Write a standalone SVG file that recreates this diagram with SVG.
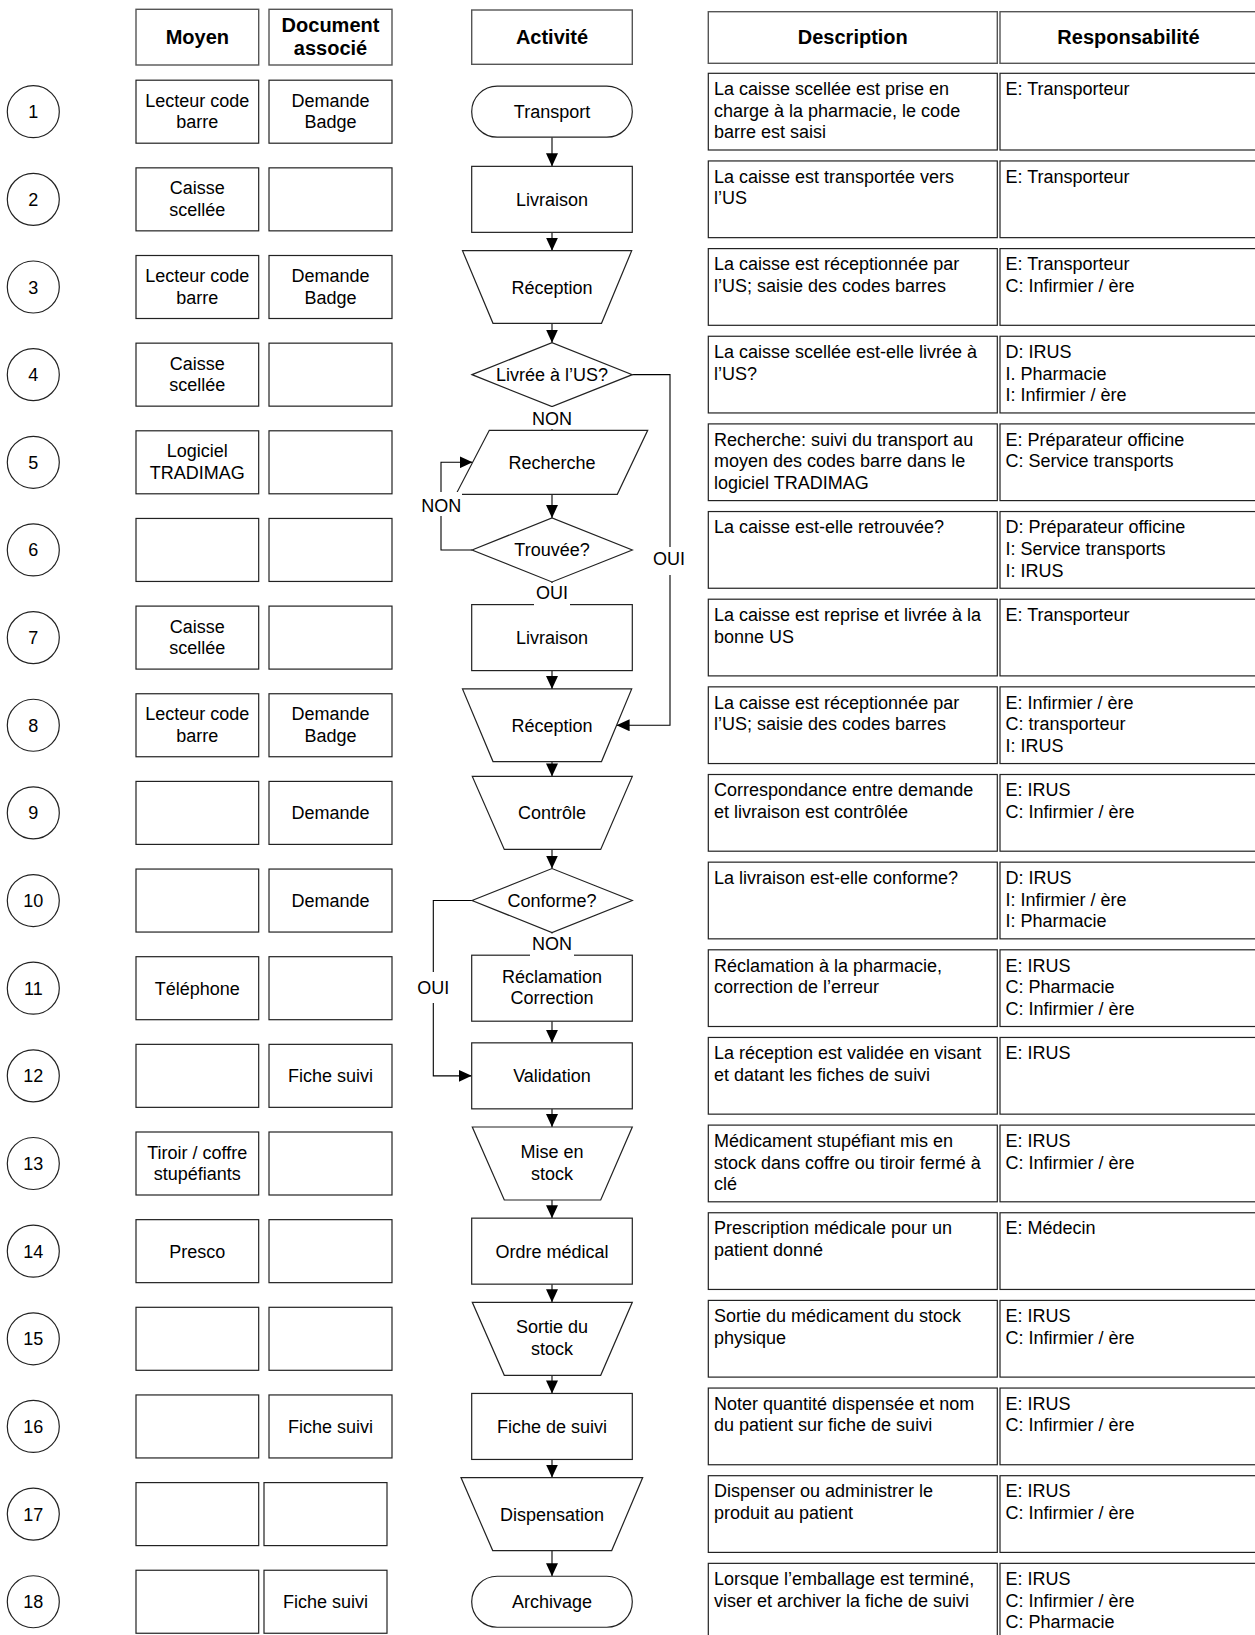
<svg xmlns="http://www.w3.org/2000/svg" width="1255" height="1635" viewBox="0 0 1255 1635">
<style>
text{font-family:"Liberation Sans",Arial,sans-serif;font-size:18px;fill:#000}
.c{text-anchor:middle}
.h{font-weight:bold;font-size:20px}
.b{fill:#fff;stroke:#222;stroke-width:1.2}
.bh{fill:#fff;stroke:#555;stroke-width:1.4}
.ln{fill:none;stroke:#000;stroke-width:1.1}
.lb{fill:#fff;stroke:none}
.dt{}
</style>
<defs>
<marker id="arr" markerWidth="13" markerHeight="12" refX="13" refY="6" orient="auto" markerUnits="userSpaceOnUse"><path d="M0,0 L13,6 L0,12 z" fill="#000"/></marker>
</defs>
<rect width="1255" height="1635" fill="#fff"/>

<!-- headers -->
<g id="hdr-moyen"><rect class="bh" x="136" y="9.3" width="122.7" height="55.7"/><text class="c h" x="197.3" y="44">Moyen</text></g>
<g id="hdr-doc"><rect class="bh" x="269" y="9.3" width="123" height="55.7"/><text class="c h" x="330.5" y="31.5">Document</text><text class="c h" x="330.5" y="55">associé</text></g>
<g id="hdr-act"><rect class="bh" x="471.7" y="10" width="160.6" height="54.3"/><text class="c h" x="552" y="44">Activité</text></g>
<g id="hdr-desc"><rect class="bh" x="708.3" y="11.7" width="289" height="51.6"/><text class="c h" x="852.8" y="44">Description</text></g>
<g id="hdr-resp"><rect class="bh" x="1000" y="11.7" width="257" height="51.6"/><text class="c h" x="1128.5" y="44">Responsabilité</text></g>

<!-- connectors -->
<g id="connectors">
<path class="ln" d="M552,137.2 V166.35" marker-end="url(#arr)"/>
<path class="ln" d="M552,232.35 V250.7" marker-end="url(#arr)"/>
<path class="ln" d="M552,323.3 V342.65" marker-end="url(#arr)"/>
<path class="ln" d="M552,406.65 V430.3"/>
<path class="ln" d="M552,494.3 V517.95" marker-end="url(#arr)"/>
<path class="ln" d="M552,581.95 V604.6"/>
<path class="ln" d="M552,670.6 V688.95" marker-end="url(#arr)"/>
<path class="ln" d="M552,761.55 V776.4" marker-end="url(#arr)"/>
<path class="ln" d="M552,849.4 V868.55" marker-end="url(#arr)"/>
<path class="ln" d="M552,932.55 V955.2"/>
<path class="ln" d="M552,1021.2 V1042.85" marker-end="url(#arr)"/>
<path class="ln" d="M552,1108.85 V1127" marker-end="url(#arr)"/>
<path class="ln" d="M552,1200 V1218.15" marker-end="url(#arr)"/>
<path class="ln" d="M552,1284.15 V1302.3" marker-end="url(#arr)"/>
<path class="ln" d="M552,1375.3 V1393.45" marker-end="url(#arr)"/>
<path class="ln" d="M552,1459.45 V1477.6" marker-end="url(#arr)"/>
<path class="ln" d="M552,1550.6 V1576.25" marker-end="url(#arr)"/>
<path class="ln" d="M632.3,374.65 H670 V725.25 H616.6" marker-end="url(#arr)"/>
<path class="ln" d="M472,549.95 H441 V462.3 H472.6" marker-end="url(#arr)"/>
<path class="ln" d="M472,900.55 H433.3 V1075.85 H471.7" marker-end="url(#arr)"/>
</g>

<!-- row 1 -->
<g id="n1" transform="translate(0,111.7)"><circle class="b" cx="33.3" cy="0" r="26"/><text class="c" x="33.3" y="6.5">1</text></g>
<g id="m1" transform="translate(0,111.7)"><rect class="b" x="136" y="-31.5" width="122.7" height="63"/><text class="c" x="197.3" y="-5">Lecteur code</text><text class="c" x="197.3" y="16.5">barre</text></g>
<g id="d1" transform="translate(0,111.7)"><rect class="b" x="269" y="-31.5" width="123" height="63"/><text class="c" x="330.5" y="-5">Demande</text><text class="c" x="330.5" y="16.5">Badge</text></g>
<g id="a1" transform="translate(0,111.7)"><rect class="b" x="471.7" y="-25.5" width="160.6" height="51" rx="25.5"/><text class="c" x="552" y="6.5">Transport</text></g>
<g id="s1" transform="translate(0,111.7)"><rect class="b" x="708.3" y="-38.4" width="289" height="76.7"/><text x="714" y="-16.7">La caisse scellée est prise en</text><text x="714" y="5">charge à la pharmacie, le code</text><text x="714" y="26.7">barre est saisi</text></g>
<g id="r1" transform="translate(0,111.7)"><rect class="b" x="1000" y="-38.4" width="257" height="76.7"/><text x="1005.5" y="-16.7">E: Transporteur</text></g>

<!-- row 2 -->
<g id="n2" transform="translate(0,199.35)"><circle class="b" cx="33.3" cy="0" r="26"/><text class="c" x="33.3" y="6.5">2</text></g>
<g id="m2" transform="translate(0,199.35)"><rect class="b" x="136" y="-31.5" width="122.7" height="63"/><text class="c" x="197.3" y="-5">Caisse</text><text class="c" x="197.3" y="16.5">scellée</text></g>
<g id="d2" transform="translate(0,199.35)"><rect class="b" x="269" y="-31.5" width="123" height="63"/></g>
<g id="a2" transform="translate(0,199.35)"><rect class="b" x="471.7" y="-33" width="160.6" height="66"/><text class="c" x="552" y="6.5">Livraison</text></g>
<g id="s2" transform="translate(0,199.35)"><rect class="b" x="708.3" y="-38.4" width="289" height="76.7"/><text x="714" y="-16.7">La caisse est transportée vers</text><text x="714" y="5">l’US</text></g>
<g id="r2" transform="translate(0,199.35)"><rect class="b" x="1000" y="-38.4" width="257" height="76.7"/><text x="1005.5" y="-16.7">E: Transporteur</text></g>

<!-- row 3 -->
<g id="n3" transform="translate(0,287)"><circle class="b" cx="33.3" cy="0" r="26"/><text class="c" x="33.3" y="6.5">3</text></g>
<g id="m3" transform="translate(0,287)"><rect class="b" x="136" y="-31.5" width="122.7" height="63"/><text class="c" x="197.3" y="-5">Lecteur code</text><text class="c" x="197.3" y="16.5">barre</text></g>
<g id="d3" transform="translate(0,287)"><rect class="b" x="269" y="-31.5" width="123" height="63"/><text class="c" x="330.5" y="-5">Demande</text><text class="c" x="330.5" y="16.5">Badge</text></g>
<g id="a3" transform="translate(0,287)"><polygon class="b" points="462.5,-36.3 631.7,-36.3 601.5,36.3 493,36.3"/><text class="c" x="552" y="6.5">Réception</text></g>
<g id="s3" transform="translate(0,287)"><rect class="b" x="708.3" y="-38.4" width="289" height="76.7"/><text x="714" y="-16.7">La caisse est réceptionnée par</text><text x="714" y="5">l’US; saisie des codes barres</text></g>
<g id="r3" transform="translate(0,287)"><rect class="b" x="1000" y="-38.4" width="257" height="76.7"/><text x="1005.5" y="-16.7">E: Transporteur</text><text x="1005.5" y="5">C: Infirmier / ère</text></g>

<!-- row 4 -->
<g id="n4" transform="translate(0,374.65)"><circle class="b" cx="33.3" cy="0" r="26"/><text class="c" x="33.3" y="6.5">4</text></g>
<g id="m4" transform="translate(0,374.65)"><rect class="b" x="136" y="-31.5" width="122.7" height="63"/><text class="c" x="197.3" y="-5">Caisse</text><text class="c" x="197.3" y="16.5">scellée</text></g>
<g id="d4" transform="translate(0,374.65)"><rect class="b" x="269" y="-31.5" width="123" height="63"/></g>
<g id="a4" transform="translate(0,374.65)"><polygon class="b" points="472,0 552,-32 632.3,0 552,32"/><text class="c" x="552" y="6.5">Livrée à l’US?</text></g>
<g id="s4" transform="translate(0,374.65)"><rect class="b" x="708.3" y="-38.4" width="289" height="76.7"/><text x="714" y="-16.7">La caisse scellée est-elle livrée à</text><text x="714" y="5">l’US?</text></g>
<g id="r4" transform="translate(0,374.65)"><rect class="b" x="1000" y="-38.4" width="257" height="76.7"/><text x="1005.5" y="-16.7">D: IRUS</text><text x="1005.5" y="5">I. Pharmacie</text><text x="1005.5" y="26.7">I: Infirmier / ère</text></g>

<!-- row 5 -->
<g id="n5" transform="translate(0,462.3)"><circle class="b" cx="33.3" cy="0" r="26"/><text class="c" x="33.3" y="6.5">5</text></g>
<g id="m5" transform="translate(0,462.3)"><rect class="b" x="136" y="-31.5" width="122.7" height="63"/><text class="c" x="197.3" y="-5">Logiciel</text><text class="c" x="197.3" y="16.5">TRADIMAG</text></g>
<g id="d5" transform="translate(0,462.3)"><rect class="b" x="269" y="-31.5" width="123" height="63"/></g>
<g id="a5" transform="translate(0,462.3)"><polygon class="b" points="489.3,-32 647.7,-32 617.3,32 456,32"/><text class="c" x="552" y="6.5">Recherche</text></g>
<g id="s5" transform="translate(0,462.3)"><rect class="b" x="708.3" y="-38.4" width="289" height="76.7"/><text x="714" y="-16.7">Recherche: suivi du transport au</text><text x="714" y="5">moyen des codes barre dans le</text><text x="714" y="26.7">logiciel TRADIMAG</text></g>
<g id="r5" transform="translate(0,462.3)"><rect class="b" x="1000" y="-38.4" width="257" height="76.7"/><text x="1005.5" y="-16.7">E: Préparateur officine</text><text x="1005.5" y="5">C: Service transports</text></g>

<!-- row 6 -->
<g id="n6" transform="translate(0,549.95)"><circle class="b" cx="33.3" cy="0" r="26"/><text class="c" x="33.3" y="6.5">6</text></g>
<g id="m6" transform="translate(0,549.95)"><rect class="b" x="136" y="-31.5" width="122.7" height="63"/></g>
<g id="d6" transform="translate(0,549.95)"><rect class="b" x="269" y="-31.5" width="123" height="63"/></g>
<g id="a6" transform="translate(0,549.95)"><polygon class="b" points="472,0 552,-32 632.3,0 552,32"/><text class="c" x="552" y="6.5">Trouvée?</text></g>
<g id="s6" transform="translate(0,549.95)"><rect class="b" x="708.3" y="-38.4" width="289" height="76.7"/><text x="714" y="-16.7">La caisse est-elle retrouvée?</text></g>
<g id="r6" transform="translate(0,549.95)"><rect class="b" x="1000" y="-38.4" width="257" height="76.7"/><text x="1005.5" y="-16.7">D: Préparateur officine</text><text x="1005.5" y="5">I: Service transports</text><text x="1005.5" y="26.7">I: IRUS</text></g>

<!-- row 7 -->
<g id="n7" transform="translate(0,637.6)"><circle class="b" cx="33.3" cy="0" r="26"/><text class="c" x="33.3" y="6.5">7</text></g>
<g id="m7" transform="translate(0,637.6)"><rect class="b" x="136" y="-31.5" width="122.7" height="63"/><text class="c" x="197.3" y="-5">Caisse</text><text class="c" x="197.3" y="16.5">scellée</text></g>
<g id="d7" transform="translate(0,637.6)"><rect class="b" x="269" y="-31.5" width="123" height="63"/></g>
<g id="a7" transform="translate(0,637.6)"><rect class="b" x="471.7" y="-33" width="160.6" height="66"/><text class="c" x="552" y="6.5">Livraison</text></g>
<g id="s7" transform="translate(0,637.6)"><rect class="b" x="708.3" y="-38.4" width="289" height="76.7"/><text x="714" y="-16.7">La caisse est reprise et livrée à la</text><text x="714" y="5">bonne US</text></g>
<g id="r7" transform="translate(0,637.6)"><rect class="b" x="1000" y="-38.4" width="257" height="76.7"/><text x="1005.5" y="-16.7">E: Transporteur</text></g>

<!-- row 8 -->
<g id="n8" transform="translate(0,725.25)"><circle class="b" cx="33.3" cy="0" r="26"/><text class="c" x="33.3" y="6.5">8</text></g>
<g id="m8" transform="translate(0,725.25)"><rect class="b" x="136" y="-31.5" width="122.7" height="63"/><text class="c" x="197.3" y="-5">Lecteur code</text><text class="c" x="197.3" y="16.5">barre</text></g>
<g id="d8" transform="translate(0,725.25)"><rect class="b" x="269" y="-31.5" width="123" height="63"/><text class="c" x="330.5" y="-5">Demande</text><text class="c" x="330.5" y="16.5">Badge</text></g>
<g id="a8" transform="translate(0,725.25)"><polygon class="b" points="462.5,-36.3 631.7,-36.3 601.5,36.3 493,36.3"/><text class="c" x="552" y="6.5">Réception</text></g>
<g id="s8" transform="translate(0,725.25)"><rect class="b" x="708.3" y="-38.4" width="289" height="76.7"/><text x="714" y="-16.7">La caisse est réceptionnée par</text><text x="714" y="5">l’US; saisie des codes barres</text></g>
<g id="r8" transform="translate(0,725.25)"><rect class="b" x="1000" y="-38.4" width="257" height="76.7"/><text x="1005.5" y="-16.7">E: Infirmier / ère</text><text x="1005.5" y="5">C: transporteur</text><text x="1005.5" y="26.7">I: IRUS</text></g>

<!-- row 9 -->
<g id="n9" transform="translate(0,812.9)"><circle class="b" cx="33.3" cy="0" r="26"/><text class="c" x="33.3" y="6.5">9</text></g>
<g id="m9" transform="translate(0,812.9)"><rect class="b" x="136" y="-31.5" width="122.7" height="63"/></g>
<g id="d9" transform="translate(0,812.9)"><rect class="b" x="269" y="-31.5" width="123" height="63"/><text class="c" x="330.5" y="6.5">Demande</text></g>
<g id="a9" transform="translate(0,812.9)"><polygon class="b" points="472.3,-36.5 632.3,-36.5 600.7,36.5 504.3,36.5"/><text class="c" x="552" y="6.5">Contrôle</text></g>
<g id="s9" transform="translate(0,812.9)"><rect class="b" x="708.3" y="-38.4" width="289" height="76.7"/><text x="714" y="-16.7">Correspondance entre demande</text><text x="714" y="5">et livraison est contrôlée</text></g>
<g id="r9" transform="translate(0,812.9)"><rect class="b" x="1000" y="-38.4" width="257" height="76.7"/><text x="1005.5" y="-16.7">E: IRUS</text><text x="1005.5" y="5">C: Infirmier / ère</text></g>

<!-- row 10 -->
<g id="n10" transform="translate(0,900.55)"><circle class="b" cx="33.3" cy="0" r="26"/><text class="c" x="33.3" y="6.5">10</text></g>
<g id="m10" transform="translate(0,900.55)"><rect class="b" x="136" y="-31.5" width="122.7" height="63"/></g>
<g id="d10" transform="translate(0,900.55)"><rect class="b" x="269" y="-31.5" width="123" height="63"/><text class="c" x="330.5" y="6.5">Demande</text></g>
<g id="a10" transform="translate(0,900.55)"><polygon class="b" points="472,0 552,-32 632.3,0 552,32"/><text class="c" x="552" y="6.5">Conforme?</text></g>
<g id="s10" transform="translate(0,900.55)"><rect class="b" x="708.3" y="-38.4" width="289" height="76.7"/><text x="714" y="-16.7">La livraison est-elle conforme?</text></g>
<g id="r10" transform="translate(0,900.55)"><rect class="b" x="1000" y="-38.4" width="257" height="76.7"/><text x="1005.5" y="-16.7">D: IRUS</text><text x="1005.5" y="5">I: Infirmier / ère</text><text x="1005.5" y="26.7">I: Pharmacie</text></g>

<!-- row 11 -->
<g id="n11" transform="translate(0,988.2)"><circle class="b" cx="33.3" cy="0" r="26"/><text class="c" x="33.3" y="6.5">11</text></g>
<g id="m11" transform="translate(0,988.2)"><rect class="b" x="136" y="-31.5" width="122.7" height="63"/><text class="c" x="197.3" y="6.5">Téléphone</text></g>
<g id="d11" transform="translate(0,988.2)"><rect class="b" x="269" y="-31.5" width="123" height="63"/></g>
<g id="a11" transform="translate(0,988.2)"><rect class="b" x="471.7" y="-33" width="160.6" height="66"/><text class="c" x="552" y="-5">Réclamation</text><text class="c" x="552" y="16">Correction</text></g>
<g id="s11" transform="translate(0,988.2)"><rect class="b" x="708.3" y="-38.4" width="289" height="76.7"/><text x="714" y="-16.7">Réclamation à la pharmacie,</text><text x="714" y="5">correction de l’erreur</text></g>
<g id="r11" transform="translate(0,988.2)"><rect class="b" x="1000" y="-38.4" width="257" height="76.7"/><text x="1005.5" y="-16.7">E: IRUS</text><text x="1005.5" y="5">C: Pharmacie</text><text x="1005.5" y="26.7">C: Infirmier / ère</text></g>

<!-- row 12 -->
<g id="n12" transform="translate(0,1075.85)"><circle class="b" cx="33.3" cy="0" r="26"/><text class="c" x="33.3" y="6.5">12</text></g>
<g id="m12" transform="translate(0,1075.85)"><rect class="b" x="136" y="-31.5" width="122.7" height="63"/></g>
<g id="d12" transform="translate(0,1075.85)"><rect class="b" x="269" y="-31.5" width="123" height="63"/><text class="c" x="330.5" y="6.5">Fiche suivi</text></g>
<g id="a12" transform="translate(0,1075.85)"><rect class="b" x="471.7" y="-33" width="160.6" height="66"/><text class="c" x="552" y="6.5">Validation</text></g>
<g id="s12" transform="translate(0,1075.85)"><rect class="b" x="708.3" y="-38.4" width="289" height="76.7"/><text x="714" y="-16.7">La réception est validée en visant</text><text x="714" y="5">et datant les fiches de suivi</text></g>
<g id="r12" transform="translate(0,1075.85)"><rect class="b" x="1000" y="-38.4" width="257" height="76.7"/><text x="1005.5" y="-16.7">E: IRUS</text></g>

<!-- row 13 -->
<g id="n13" transform="translate(0,1163.5)"><circle class="b" cx="33.3" cy="0" r="26"/><text class="c" x="33.3" y="6.5">13</text></g>
<g id="m13" transform="translate(0,1163.5)"><rect class="b" x="136" y="-31.5" width="122.7" height="63"/><text class="c" x="197.3" y="-5">Tiroir / coffre</text><text class="c" x="197.3" y="16.5">stupéfiants</text></g>
<g id="d13" transform="translate(0,1163.5)"><rect class="b" x="269" y="-31.5" width="123" height="63"/></g>
<g id="a13" transform="translate(0,1163.5)"><polygon class="b" points="472.3,-36.5 632.3,-36.5 600.7,36.5 504.3,36.5"/><text class="c" x="552" y="-5.5">Mise en</text><text class="c" x="552" y="16">stock</text></g>
<g id="s13" transform="translate(0,1163.5)"><rect class="b" x="708.3" y="-38.4" width="289" height="76.7"/><text x="714" y="-16.7">Médicament stupéfiant mis en</text><text x="714" y="5">stock dans coffre ou tiroir fermé à</text><text x="714" y="26.7">clé</text></g>
<g id="r13" transform="translate(0,1163.5)"><rect class="b" x="1000" y="-38.4" width="257" height="76.7"/><text x="1005.5" y="-16.7">E: IRUS</text><text x="1005.5" y="5">C: Infirmier / ère</text></g>

<!-- row 14 -->
<g id="n14" transform="translate(0,1251.15)"><circle class="b" cx="33.3" cy="0" r="26"/><text class="c" x="33.3" y="6.5">14</text></g>
<g id="m14" transform="translate(0,1251.15)"><rect class="b" x="136" y="-31.5" width="122.7" height="63"/><text class="c" x="197.3" y="6.5">Presco</text></g>
<g id="d14" transform="translate(0,1251.15)"><rect class="b" x="269" y="-31.5" width="123" height="63"/></g>
<g id="a14" transform="translate(0,1251.15)"><rect class="b" x="471.7" y="-33" width="160.6" height="66"/><text class="c" x="552" y="6.5">Ordre médical</text></g>
<g id="s14" transform="translate(0,1251.15)"><rect class="b" x="708.3" y="-38.4" width="289" height="76.7"/><text x="714" y="-16.7">Prescription médicale pour un</text><text x="714" y="5">patient donné</text></g>
<g id="r14" transform="translate(0,1251.15)"><rect class="b" x="1000" y="-38.4" width="257" height="76.7"/><text x="1005.5" y="-16.7">E: Médecin</text></g>

<!-- row 15 -->
<g id="n15" transform="translate(0,1338.8)"><circle class="b" cx="33.3" cy="0" r="26"/><text class="c" x="33.3" y="6.5">15</text></g>
<g id="m15" transform="translate(0,1338.8)"><rect class="b" x="136" y="-31.5" width="122.7" height="63"/></g>
<g id="d15" transform="translate(0,1338.8)"><rect class="b" x="269" y="-31.5" width="123" height="63"/></g>
<g id="a15" transform="translate(0,1338.8)"><polygon class="b" points="472.3,-36.5 632.3,-36.5 600.7,36.5 504.3,36.5"/><text class="c" x="552" y="-5.5">Sortie du</text><text class="c" x="552" y="16">stock</text></g>
<g id="s15" transform="translate(0,1338.8)"><rect class="b" x="708.3" y="-38.4" width="289" height="76.7"/><text x="714" y="-16.7">Sortie du médicament du stock</text><text x="714" y="5">physique</text></g>
<g id="r15" transform="translate(0,1338.8)"><rect class="b" x="1000" y="-38.4" width="257" height="76.7"/><text x="1005.5" y="-16.7">E: IRUS</text><text x="1005.5" y="5">C: Infirmier / ère</text></g>

<!-- row 16 -->
<g id="n16" transform="translate(0,1426.45)"><circle class="b" cx="33.3" cy="0" r="26"/><text class="c" x="33.3" y="6.5">16</text></g>
<g id="m16" transform="translate(0,1426.45)"><rect class="b" x="136" y="-31.5" width="122.7" height="63"/></g>
<g id="d16" transform="translate(0,1426.45)"><rect class="b" x="269" y="-31.5" width="123" height="63"/><text class="c" x="330.5" y="6.5">Fiche suivi</text></g>
<g id="a16" transform="translate(0,1426.45)"><rect class="b" x="471.7" y="-33" width="160.6" height="66"/><text class="c" x="552" y="6.5">Fiche de suivi</text></g>
<g id="s16" transform="translate(0,1426.45)"><rect class="b" x="708.3" y="-38.4" width="289" height="76.7"/><text x="714" y="-16.7">Noter quantité dispensée et nom</text><text x="714" y="5">du patient sur fiche de suivi</text></g>
<g id="r16" transform="translate(0,1426.45)"><rect class="b" x="1000" y="-38.4" width="257" height="76.7"/><text x="1005.5" y="-16.7">E: IRUS</text><text x="1005.5" y="5">C: Infirmier / ère</text></g>

<!-- row 17 -->
<g id="n17" transform="translate(0,1514.1)"><circle class="b" cx="33.3" cy="0" r="26"/><text class="c" x="33.3" y="6.5">17</text></g>
<g id="m17" transform="translate(0,1514.1)"><rect class="b" x="136" y="-31.5" width="122.7" height="63"/></g>
<g id="d17" transform="translate(0,1514.1)"><rect class="b" x="264" y="-31.5" width="123" height="63"/></g>
<g id="a17" transform="translate(0,1514.1)"><polygon class="b" points="461,-36.5 642.7,-36.5 611.7,36.5 492.7,36.5"/><text class="c" x="552" y="6.5">Dispensation</text></g>
<g id="s17" transform="translate(0,1514.1)"><rect class="b" x="708.3" y="-38.4" width="289" height="76.7"/><text x="714" y="-16.7">Dispenser ou administrer le</text><text x="714" y="5">produit au patient</text></g>
<g id="r17" transform="translate(0,1514.1)"><rect class="b" x="1000" y="-38.4" width="257" height="76.7"/><text x="1005.5" y="-16.7">E: IRUS</text><text x="1005.5" y="5">C: Infirmier / ère</text></g>

<!-- row 18 -->
<g id="n18" transform="translate(0,1601.75)"><circle class="b" cx="33.3" cy="0" r="26"/><text class="c" x="33.3" y="6.5">18</text></g>
<g id="m18" transform="translate(0,1601.75)"><rect class="b" x="136" y="-31.5" width="122.7" height="63"/></g>
<g id="d18" transform="translate(0,1601.75)"><rect class="b" x="264" y="-31.5" width="123" height="63"/><text class="c" x="325.5" y="6.5">Fiche suivi</text></g>
<g id="a18" transform="translate(0,1601.75)"><rect class="b" x="471.7" y="-25.5" width="160.6" height="51" rx="25.5"/><text class="c" x="552" y="6.5">Archivage</text></g>
<g id="s18" transform="translate(0,1601.75)"><rect class="b" x="708.3" y="-38.4" width="289" height="76.7"/><text x="714" y="-16.7">Lorsque l’emballage est terminé,</text><text x="714" y="5">viser et archiver la fiche de suivi</text></g>
<g id="r18" transform="translate(0,1601.75)"><rect class="b" x="1000" y="-38.4" width="257" height="76.7"/><text x="1005.5" y="-16.7">E: IRUS</text><text x="1005.5" y="5">C: Infirmier / ère</text><text x="1005.5" y="26.7">C: Pharmacie</text></g>

<!-- connector labels -->
<g id="labels">
<rect class="lb" x="531" y="407" width="42" height="22"/><text class="c" x="552" y="425.3">NON</text>
<rect class="lb" x="534" y="583" width="36" height="23"/><text class="c" x="552" y="599">OUI</text>
<rect class="lb" x="530" y="933.5" width="44" height="23"/><text class="c" x="552" y="950">NON</text>
<rect class="lb" x="652" y="547" width="34" height="28"/><text class="c" x="669" y="565">OUI</text>
<rect class="lb" x="420" y="492" width="42" height="24"/><text class="c" x="441.3" y="511.7">NON</text>
<rect class="lb" x="416" y="972" width="35" height="31"/><text class="c" x="433.3" y="994">OUI</text>
</g>
</svg>
